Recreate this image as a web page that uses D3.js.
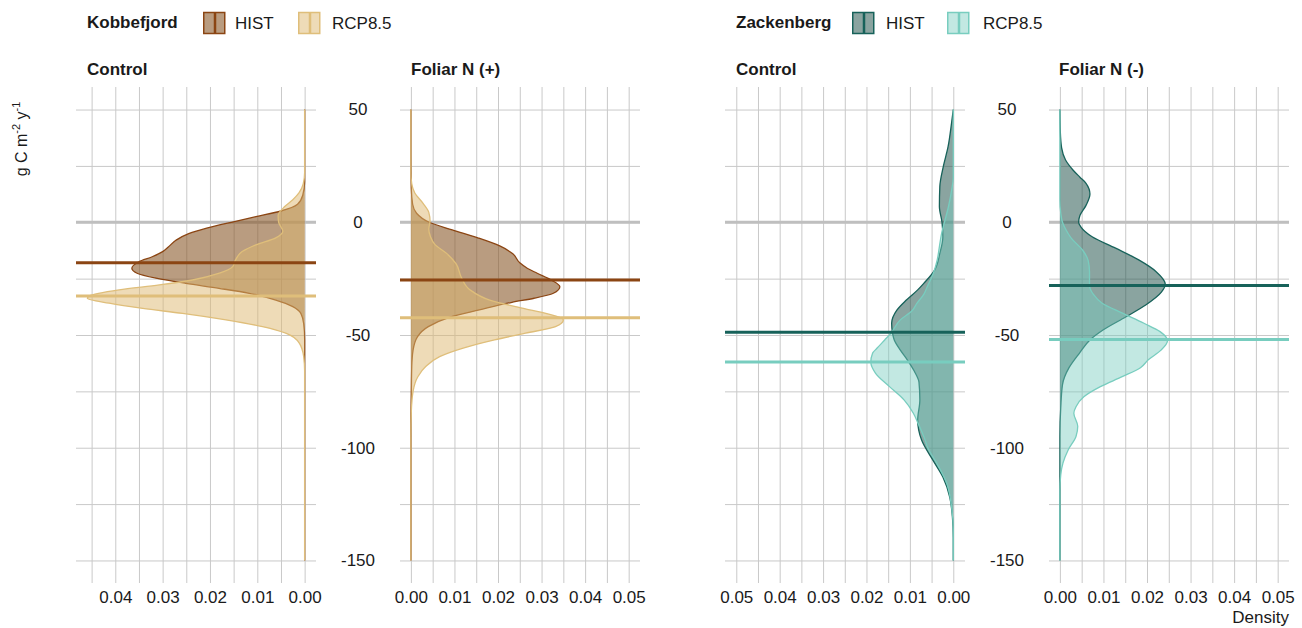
<!DOCTYPE html>
<html>
<head>
<meta charset="utf-8">
<script src="https://cdn.jsdelivr.net/npm/d3@7"></script>
<style>
body { margin: 0; background: #fff; }
text { font-family: "Liberation Sans", Arial, sans-serif; fill: #1a1a1a; }
</style>
</head>
<body>
<svg id="chart" width="1302" height="628"></svg>
<script>
// density curves as [g C m-2 y-1, density]
const kobCtrlHist = [[50,0],[18,0],[12,0.0004],[8,0.0015],[5,0.005],[2.5,0.0103],[0,0.0155],[-2.5,0.0205],[-5,0.0245],[-8,0.0272],[-11,0.0288],[-13,0.03],[-15.3,0.0322],[-17.5,0.035],[-20.4,0.0365],[-22.6,0.0354],[-24.8,0.0314],[-27.1,0.0251],[-29.3,0.0181],[-31.5,0.0117],[-34.5,0.0061],[-37.4,0.0025],[-40.4,0.0008],[-45,0.0002],[-52,0],[-150,0]];
const kobCtrlRcp = [[50,0],[22,0],[17,0.0003],[13,0.0012],[10,0.0025],[7,0.0042],[3,0.0056],[0,0.0055],[-4,0.0046],[-7,0.0062],[-10,0.0103],[-13,0.0132],[-16.7,0.0146],[-19.7,0.0152],[-22.6,0.018],[-25.6,0.0237],[-27.8,0.0307],[-30,0.0392],[-32.7,0.0455],[-33.7,0.0459],[-35.9,0.0413],[-38.2,0.0342],[-40.4,0.0258],[-43.3,0.0166],[-46.3,0.0089],[-49.2,0.004],[-53.7,0.0011],[-59.6,0.0002],[-66,0],[-150,0]];
const kobFolHist = [[50,0],[30,0],[15,0.0001],[8,0.0004],[4,0.0013],[0,0.0042],[-3.4,0.0095],[-7,0.0155],[-10.5,0.0204],[-14,0.0234],[-18,0.025],[-20.5,0.0268],[-22.6,0.029],[-25.6,0.0322],[-28.6,0.0342],[-31.5,0.0327],[-33.7,0.0283],[-35.5,0.0232],[-38.9,0.0157],[-42.3,0.0087],[-46.3,0.004],[-50.8,0.0015],[-56.7,0.0005],[-64,0.0002],[-76,0.0001],[-90,0],[-150,0]];
const kobFolRcp = [[50,0],[22,0],[17,0.0002],[13,0.0009],[8.4,0.0028],[4.5,0.0041],[0.5,0.0044],[-3,0.0041],[-6.4,0.0045],[-9.8,0.0055],[-13.8,0.0082],[-18.5,0.0104],[-24.5,0.0116],[-30,0.0136],[-34.5,0.0181],[-38.4,0.0263],[-41.3,0.0327],[-43.3,0.035],[-46.3,0.0332],[-49.2,0.0263],[-52.2,0.0192],[-55.7,0.0122],[-59.6,0.0066],[-64,0.0034],[-68.5,0.0016],[-75,0.0005],[-84,0.0001],[-95,0],[-150,0]];
const zacCtrlHist = [[50,0],[44,0.0004],[33.5,0.0012],[24.7,0.0023],[15.8,0.0031],[7,0.0032],[0,0.0026],[-6.4,0.0024],[-13.8,0.0031],[-21.2,0.0043],[-27.1,0.0068],[-30,0.0082],[-34.5,0.0108],[-39,0.013],[-44.8,0.0142],[-49.2,0.014],[-52.2,0.0136],[-56.7,0.0122],[-61,0.0106],[-66,0.009],[-71,0.0079],[-78.8,0.0077],[-87.7,0.0082],[-96.6,0.0073],[-105.5,0.0047],[-113,0.0024],[-122,0.0008],[-130.6,0.0002],[-140,0],[-150,0]];
const zacCtrlRcp = [[50,0],[20,0],[14,0.0004],[7,0.0011],[1,0.0019],[-5,0.0027],[-10.8,0.0032],[-16.7,0.0037],[-22.6,0.0046],[-28.6,0.006],[-32,0.0068],[-36,0.0084],[-39,0.0094],[-43.3,0.0122],[-49.5,0.0145],[-52.2,0.0158],[-55.9,0.0176],[-58.1,0.0186],[-62,0.019],[-67,0.0179],[-72.9,0.0147],[-78.9,0.0113],[-84.7,0.0092],[-89.2,0.0081],[-96.6,0.0065],[-100,0.0059],[-106.9,0.0038],[-115.8,0.0015],[-126.2,0.0004],[-136,0],[-150,0]];
const zacFolHist = [[50,0],[40,0.0001],[33,0.0004],[27.6,0.0013],[23.2,0.003],[20,0.0046],[17.3,0.006],[12.5,0.0069],[7.5,0.006],[3,0.0046],[0,0.0043],[-2,0.0048],[-6.4,0.0074],[-11.5,0.0128],[-16.7,0.0181],[-21.9,0.0221],[-27.5,0.0242],[-31,0.0233],[-36.7,0.0197],[-41.9,0.0152],[-47.8,0.0099],[-52.2,0.0069],[-58,0.0045],[-64.5,0.0021],[-72,0.0006],[-82,0.0002],[-95,0],[-150,0]];
const zacFolRcp = [[50,0],[10,0],[4,0.0002],[0,0.0006],[-3,0.0013],[-7,0.0026],[-12.3,0.0052],[-17,0.0065],[-22,0.0068],[-28,0.0068],[-32,0.0077],[-35.9,0.0097],[-40.4,0.0145],[-44.8,0.0193],[-48.5,0.023],[-52.5,0.0247],[-56.7,0.0232],[-61,0.0203],[-64.5,0.0185],[-68.5,0.0143],[-72.9,0.0093],[-77.4,0.0055],[-81.8,0.0037],[-84.7,0.0032],[-90.5,0.0041],[-95,0.0037],[-101,0.0019],[-106.8,0.0007],[-112,0.0002],[-119,0],[-150,0]];

// horizontal lines [HIST, RCP8.5]
const kobCtrlMeans = [-17.9, -32.7];
const kobFolMeans = [-25.6, -42.4];
const zacCtrlMeans = [-48.8, -62];
const zacFolMeans = [-28, -52];

// tick labels
const gcTicks = [50, 0, -50, -100, -150];
const densTicksKob = [0, 0.01, 0.02, 0.03, 0.04];
const densTicks = [0, 0.01, 0.02, 0.03, 0.04, 0.05];
const scenarios = ["HIST", "RCP8.5"];

// colours for each site: [HIST, RCP8.5]
const siteColors = {
    kob: { line: ["#8B4513", "#DFBE7A"], fill: ["#8B5A2B", "#DDB870"], alpha: [0.6, 0.5] },
    zac: { line: ["#17625A", "#78CDBF"], fill: ["#1E5048", "#78CDBF"], alpha: [0.52, 0.45] }
};

const svg = d3.select("#chart");
const plotTop = 87, plotBottom = 583, pw = 240;

const y = d3.scaleLinear().domain([60, -160]).range([plotTop, plotBottom]);

const panels = [
    { site: "kob", title: "Control", left: 76, titleX: 87, dom: [0.0483, -0.0024], ticks: densTicksKob, hist: kobCtrlHist, rcp: kobCtrlRcp, means: kobCtrlMeans },
    { site: "kob", title: "Foliar N (+)", left: 400, titleX: 411, dom: [-0.0025, 0.0526], ticks: densTicks, hist: kobFolHist, rcp: kobFolRcp, means: kobFolMeans, yLab: 358 },
    { site: "zac", title: "Control", left: 725, titleX: 736, dom: [0.0526, -0.0027], ticks: densTicks, hist: zacCtrlHist, rcp: zacCtrlRcp, means: zacCtrlMeans },
    { site: "zac", title: "Foliar N (-)", left: 1049, titleX: 1059, dom: [-0.0025, 0.0526], ticks: densTicks, hist: zacFolHist, rcp: zacFolRcp, means: zacFolMeans, yLab: 1007 }
];

panels.forEach(p => {
    const x = d3.scaleLinear().domain(p.dom).range([p.left, p.left + pw]);
    const col = siteColors[p.site];
    const g = svg.append("g");
    const maxD = Math.max(p.dom[0], p.dom[1]);

    // vertical grid (every 0.005) + density labels
    const gridX = d3.range(0, maxD + 1e-9, 0.005);
    const xAxis = d3.axisBottom(x)
        .tickValues(gridX)
        .tickSize(-(plotBottom - plotTop))
        .tickPadding(8)
        .tickFormat(d => p.ticks.some(t => Math.abs(t - d) < 1e-9) ? d3.format(".2f")(d) : "");
    const gx = g.append("g").attr("transform", `translate(0,${plotBottom})`).call(xAxis);
    gx.select(".domain").remove();
    gx.selectAll(".tick line").attr("stroke", "#c9c9c9").attr("stroke-width", 1);
    gx.selectAll(".tick text").attr("font-size", 17).attr("fill", "#1a1a1a").attr("dy", "0.72em");

    // horizontal grid (every 25)
    const yAxis = d3.axisLeft(y)
        .tickValues(d3.range(-150, 51, 25))
        .tickSize(-pw)
        .tickFormat("");
    const gy = g.append("g").attr("transform", `translate(${p.left},0)`).call(yAxis);
    gy.select(".domain").remove();
    gy.selectAll(".tick line").attr("stroke", "#c9c9c9").attr("stroke-width", 1);

    // zero line
    g.append("line")
        .attr("x1", p.left).attr("x2", p.left + pw)
        .attr("y1", y(0)).attr("y2", y(0))
        .attr("stroke", "#bfbfbf").attr("stroke-width", 3);

    // y labels centred in the gap
    if (p.yLab) {
        const ly = d3.axisLeft(y).tickValues(gcTicks).tickSize(0).tickPadding(0)
            .tickFormat(d => String(d));
        const gl = svg.append("g").attr("transform", `translate(${p.yLab},0)`).call(ly);
        gl.select(".domain").remove();
        gl.selectAll("text").attr("text-anchor", "middle").attr("font-size", 17).attr("fill", "#1a1a1a");
    }

    const area = d3.area()
        .y(d => y(d[0])).x0(x(0)).x1(d => x(d[1]))
        .curve(d3.curveMonotoneY);
    const line = d3.line()
        .y(d => y(d[0])).x(d => x(d[1]))
        .curve(d3.curveMonotoneY);

    [p.hist, p.rcp].forEach((s, i) => {
        g.append("path").attr("d", area(s))
            .attr("fill", col.fill[i]).attr("fill-opacity", col.alpha[i]);
        g.append("path").attr("d", line(s))
            .attr("fill", "none").attr("stroke", col.line[i]).attr("stroke-width", 1.3);
    });

    p.means.forEach((m, i) => {
        g.append("line")
            .attr("x1", p.left).attr("x2", p.left + pw)
            .attr("y1", y(m)).attr("y2", y(m))
            .attr("stroke", col.line[i]).attr("stroke-width", 3);
    });

    // panel title
    svg.append("text")
        .attr("x", p.titleX).attr("y", 75)
        .attr("font-size", 17).attr("font-weight", "bold")
        .text(p.title);
});

// legends
const legends = [
    { site: "kob", name: "Kobbefjord", x: 87, keys: [203, 298], labels: [235, 332] },
    { site: "zac", name: "Zackenberg", x: 736, keys: [852, 947], labels: [886, 983] }
];
legends.forEach(l => {
    const col = siteColors[l.site];
    svg.append("text").attr("x", l.x).attr("y", 28)
        .attr("font-size", 17).attr("font-weight", "bold").text(l.name);
    scenarios.forEach((s, i) => {
        const kx = l.keys[i];
        svg.append("rect").attr("x", kx + 0.75).attr("y", 12.5).attr("width", 21).attr("height", 21)
            .attr("fill", col.fill[i]).attr("fill-opacity", col.alpha[i])
            .attr("stroke", col.line[i]).attr("stroke-width", 1.5);
        svg.append("line").attr("x1", kx + 12).attr("x2", kx + 12).attr("y1", 12).attr("y2", 34)
            .attr("stroke", col.line[i]).attr("stroke-width", 2.5);
        svg.append("text").attr("x", l.labels[i]).attr("y", 29).attr("font-size", 17).text(s);
    });
});

// axis titles
svg.append("text")
    .attr("transform", "translate(27,139) rotate(-90)")
    .attr("text-anchor", "middle").attr("font-size", 16)
    .html('g C m<tspan dy="-7" font-size="11">-2</tspan><tspan dy="7"> y</tspan><tspan dy="-7" font-size="11">-1</tspan>');
svg.append("text").attr("x", 1289).attr("y", 623)
    .attr("text-anchor", "end").attr("font-size", 17).text("Density");
</script>
</body>
</html>
